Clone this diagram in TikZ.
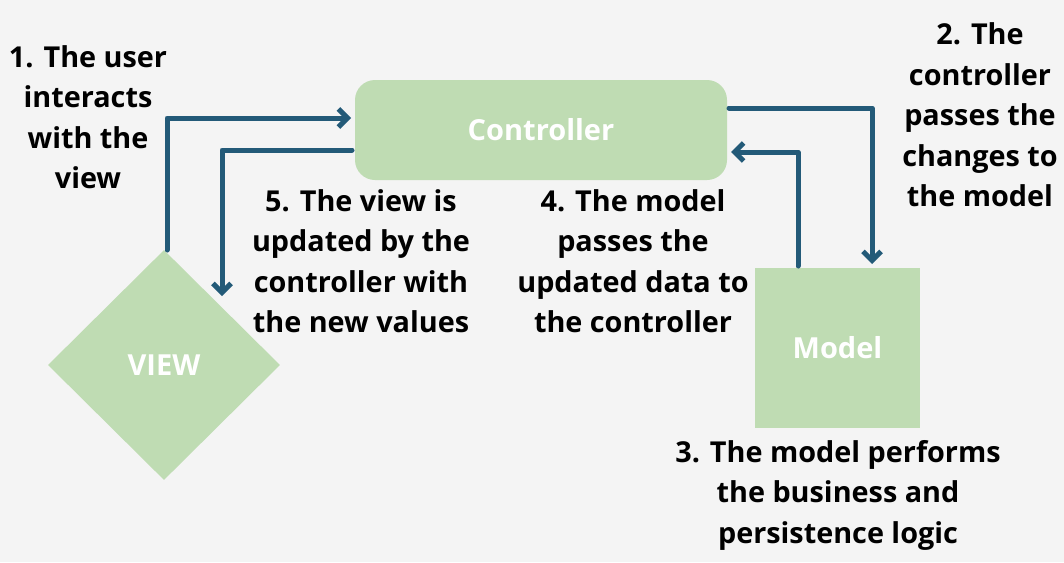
\documentclass[tikz,border=0pt]{standalone}
\usepackage{fontspec}
\setmainfont{Open Sans}
\usetikzlibrary{arrows.meta,shapes.geometric}
\definecolor{bg}{HTML}{F4F4F4}
\definecolor{boxg}{HTML}{BFDCB3}
\definecolor{arr}{HTML}{235A78}
\tikzset{
  lbl/.style={align=center,font=\fontsize{28.8}{40.5}\selectfont\bfseries,text=black,inner sep=0pt},
  boxtxt/.style={font=\fontsize{29}{30}\selectfont\bfseries,text=white},
  conn/.style={draw=arr,line width=5pt,line cap=round,line join=round,-{Straight Barb[length=9pt,width=18pt,line width=5pt]}},
}
\begin{document}
\begin{tikzpicture}[x=1pt,y=-1pt]
\fill[bg] (0,0) rectangle (1064,562);
\useasboundingbox (0,0) rectangle (1064,562);
% nodes
\node[fill=boxg,rounded corners=20pt,minimum width=372pt,minimum height=100pt,inner sep=0pt] (ctrl) at (541,130) {};
\node[boxtxt] at (ctrl.center) {Controller};
\node[fill=boxg,minimum width=165pt,minimum height=160pt,inner sep=0pt] (model) at (837.5,348) {};
\node[boxtxt] at (model.center) {Model};
\node[fill=boxg,diamond,minimum width=232pt,minimum height=230pt,inner sep=0pt] (view) at (164,365) {};
\node[boxtxt] at (view.center) {VIEW};
% coordinates
\coordinate (v1) at (167,250);
\coordinate (c1) at (351,118);
\coordinate (c5) at (352,150);
\coordinate (v5) at (222,296);
\coordinate (c2) at (729,108);
\coordinate (m2) at (872,264);
\coordinate (m4) at (798,266);
\coordinate (c4) at (731,152);
% connectors
\draw[conn] (v1) |- (c1);
\draw[conn] (c5) -| (v5);
\draw[conn] (c2) -| (m2);
\draw[conn] (m4) |- (c4);
% labels
\node[lbl] (l1) at (88,117) {1. The user\\interacts\\with the\\view};
\node[lbl] (l2) at (980,115) {2. The\\controller\\passes the\\changes to\\the model};
\node[lbl] (l5) at (361,261) {5. The view is\\updated by the\\controller with\\the new values};
\node[lbl] (l4) at (633,261) {4. The model\\passes the\\updated data to\\the controller};
\node[lbl] (l3) at (838,495) {3. The model performs\\the business and\\persistence logic};
\end{tikzpicture}
\end{document}
